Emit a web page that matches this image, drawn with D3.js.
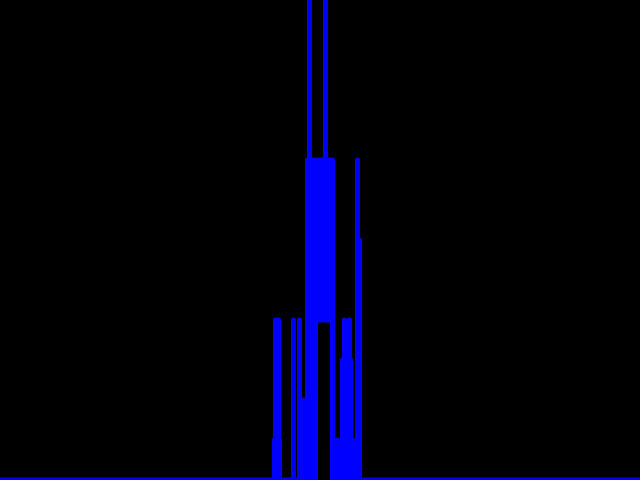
<!DOCTYPE html>
<html>
<head>
<meta charset="utf-8">
<script src="https://cdn.jsdelivr.net/npm/d3@7"></script>
<style>
  html, body { margin: 0; padding: 0; background: #000; }
  svg { display: block; }
</style>
</head>
<body>
<svg id="chart" width="640" height="480"></svg>
<script>
// Data: sequence of (position, count) points traced by the line, in drawing order
const positions = [
  0,
  274.5, 274.5, 275.5, 275.5, 278.5, 278.5, 279.5, 279.5,
  293.5, 293.5, 293.5,
  299.5, 299.5, 299.5,
  303.5, 303.5, 303.5,
  307.5, 307.5, 309.5, 309.5, 309.5, 312, 312, 312, 315.5, 315.5, 315.5,
  319, 319, 322, 322, 325.5, 325.5, 325.5, 329, 329, 332.5, 332.5,
  337.5, 337.5, 337.5,
  342.5, 342.5, 342.5,
  344.5, 344.5, 344.5,
  349.5, 349.5, 349.5,
  350.5, 350.5, 350.5,
  352.5, 352.5, 352.5,
  357.5, 357.5, 357.5,
  359.5, 359.5, 359.5,
  640
];
const counts = [
  0,
  0, 0.25, 0.25, 1, 1, 0.25, 0.25, 0,
  0, 1, 0,
  0, 1, 0,
  0, 0.5, 0,
  0, 2, 2, 3, 1, 1, 0, 2, 2, 0, 1,
  1, 2, 2, 1, 1, 3, 1, 1, 2, 2, 0,
  0, 0.25, 0,
  0, 0.75, 0,
  0, 1, 0,
  0, 1, 0,
  0, 0.75, 0,
  0, 0.25, 0,
  0, 2, 0,
  0, 1.5, 0,
  0
];
const xDomain = [0, 640];
const yDomain = [0, 3];

const width = 640, height = 480;
const svg = d3.select("#chart");
svg.append("rect").attr("width", width).attr("height", height).attr("fill", "#000");

const x = d3.scaleLinear().domain(xDomain).range([0, width]);
const y = d3.scaleLinear().domain(yDomain).range([height, 0]);

const data = positions.map((p, i) => ({ p, c: counts[i] }));

const line = d3.line()
  .x(d => x(d.p))
  .y(d => y(d.c));

svg.append("path")
  .datum(data)
  .attr("d", line)
  .attr("fill", "none")
  .attr("stroke", "#0000ff")
  .attr("stroke-width", 5)
  .attr("stroke-linejoin", "round")
  .attr("stroke-linecap", "round");
</script>
</body>
</html>
